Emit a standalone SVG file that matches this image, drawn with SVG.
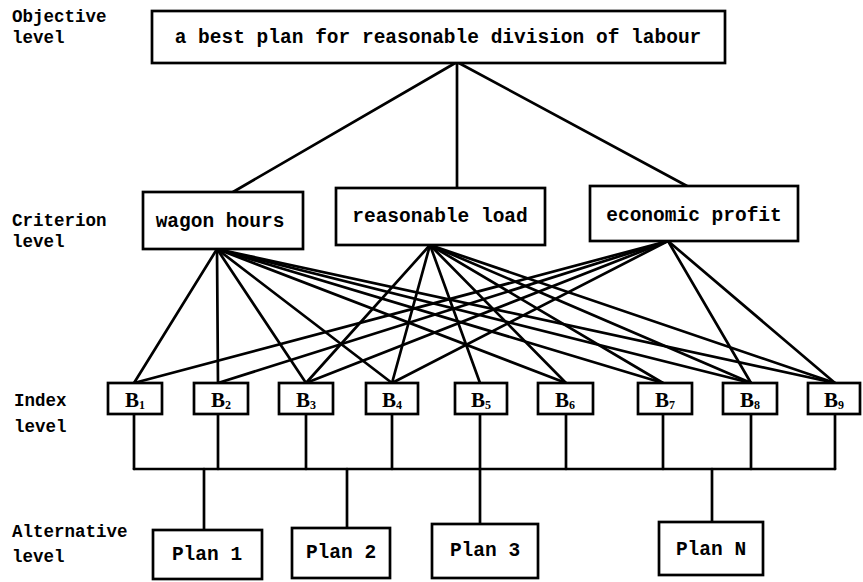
<svg xmlns="http://www.w3.org/2000/svg" width="863" height="582" viewBox="0 0 863 582">
<style>
.bg{fill:#fff}
.box{fill:#fff;stroke:#000;stroke-width:2.7}
.ln{stroke:#000;stroke-width:2.7;fill:none;stroke-linecap:round}
.t{font-family:"Liberation Mono","DejaVu Sans Mono",monospace;font-weight:bold;fill:#000}
.lbl{font-size:17.5px}
.main{font-size:19.5px;text-anchor:middle}
.b{font-family:"Liberation Serif","DejaVu Serif",serif;font-weight:bold;font-size:21px;text-anchor:middle;fill:#000}
.sub{font-size:12px}
</style>
<rect class="bg" x="0" y="0" width="863" height="582"/>

<g id="level-labels">
<text class="t lbl" x="12" y="22">Objective</text>
<text class="t lbl" x="12" y="43">level</text>
<text class="t lbl" x="12" y="226">Criterion</text>
<text class="t lbl" x="12" y="247">level</text>
<text class="t lbl" x="14" y="406">Index</text>
<text class="t lbl" x="14" y="432">level</text>
<text class="t lbl" x="12" y="537">Alternative</text>
<text class="t lbl" x="12" y="562">level</text>
</g>

<g id="connectors">
<line class="ln" x1="457" y1="62" x2="233" y2="192"/>
<line class="ln" x1="457" y1="62" x2="457" y2="188"/>
<line class="ln" x1="457" y1="62" x2="687" y2="186"/>
<line class="ln" x1="217" y1="249" x2="134" y2="383"/>
<line class="ln" x1="217" y1="249" x2="218" y2="383"/>
<line class="ln" x1="217" y1="249" x2="306" y2="383"/>
<line class="ln" x1="217" y1="249" x2="392" y2="383"/>
<line class="ln" x1="217" y1="249" x2="566" y2="383"/>
<line class="ln" x1="217" y1="249" x2="663" y2="383"/>
<line class="ln" x1="217" y1="249" x2="751" y2="383"/>
<line class="ln" x1="217" y1="249" x2="835" y2="383"/>
<line class="ln" x1="430" y1="245" x2="306" y2="383"/>
<line class="ln" x1="430" y1="245" x2="392" y2="383"/>
<line class="ln" x1="430" y1="245" x2="480" y2="383"/>
<line class="ln" x1="430" y1="245" x2="566" y2="383"/>
<line class="ln" x1="430" y1="245" x2="663" y2="383"/>
<line class="ln" x1="430" y1="245" x2="751" y2="383"/>
<line class="ln" x1="430" y1="245" x2="835" y2="383"/>
<line class="ln" x1="668" y1="241" x2="134" y2="383"/>
<line class="ln" x1="668" y1="241" x2="218" y2="383"/>
<line class="ln" x1="668" y1="241" x2="306" y2="383"/>
<line class="ln" x1="668" y1="241" x2="392" y2="383"/>
<line class="ln" x1="668" y1="241" x2="751" y2="383"/>
<line class="ln" x1="668" y1="241" x2="835" y2="383"/>
<line class="ln" x1="134" y1="414" x2="134" y2="469"/>
<line class="ln" x1="218" y1="414" x2="218" y2="469"/>
<line class="ln" x1="306" y1="414" x2="306" y2="469"/>
<line class="ln" x1="392" y1="414" x2="392" y2="469"/>
<line class="ln" x1="480" y1="414" x2="480" y2="524"/>
<line class="ln" x1="566" y1="414" x2="566" y2="469"/>
<line class="ln" x1="663" y1="414" x2="663" y2="469"/>
<line class="ln" x1="751" y1="414" x2="751" y2="469"/>
<line class="ln" x1="835" y1="414" x2="835" y2="469"/>
<line class="ln" x1="134" y1="469" x2="835" y2="469"/>
<line class="ln" x1="204" y1="469" x2="204" y2="530"/>
<line class="ln" x1="347" y1="469" x2="347" y2="528"/>
<line class="ln" x1="712" y1="469" x2="712" y2="522"/>
</g>

<g id="objective">
<rect class="box" x="152" y="11" width="573" height="52"/>
<text class="t main" x="438" y="43">a best plan for reasonable division of labour</text>
</g>

<g id="wagon-hours">
<rect class="box" x="143" y="192" width="160" height="57"/>
<text class="t main" x="220" y="227">wagon hours</text>
</g>
<g id="reasonable-load">
<rect class="box" x="336" y="188" width="209" height="57"/>
<text class="t main" x="440" y="222">reasonable load</text>
</g>
<g id="economic-profit">
<rect class="box" x="590" y="186" width="208" height="55"/>
<text class="t main" x="694" y="221">economic profit</text>
</g>

<g id="B1"><rect class="box" x="108" y="383" width="54" height="31"/><text class="b" x="135" y="407">B<tspan class="sub" dy="2">1</tspan></text></g>
<g id="B2"><rect class="box" x="194" y="383" width="54" height="31"/><text class="b" x="221" y="407">B<tspan class="sub" dy="2">2</tspan></text></g>
<g id="B3"><rect class="box" x="279" y="383" width="54" height="31"/><text class="b" x="306" y="407">B<tspan class="sub" dy="2">3</tspan></text></g>
<g id="B4"><rect class="box" x="366" y="383" width="52" height="31"/><text class="b" x="392" y="407">B<tspan class="sub" dy="2">4</tspan></text></g>
<g id="B5"><rect class="box" x="455" y="383" width="52" height="31"/><text class="b" x="481" y="407">B<tspan class="sub" dy="2">5</tspan></text></g>
<g id="B6"><rect class="box" x="538" y="383" width="55" height="31"/><text class="b" x="565" y="407">B<tspan class="sub" dy="2">6</tspan></text></g>
<g id="B7"><rect class="box" x="638" y="383" width="54" height="31"/><text class="b" x="665" y="407">B<tspan class="sub" dy="2">7</tspan></text></g>
<g id="B8"><rect class="box" x="723" y="383" width="54" height="31"/><text class="b" x="750" y="407">B<tspan class="sub" dy="2">8</tspan></text></g>
<g id="B9"><rect class="box" x="808" y="383" width="52" height="31"/><text class="b" x="834" y="407">B<tspan class="sub" dy="2">9</tspan></text></g>

<g id="plan1"><rect class="box" x="153" y="530" width="109" height="49"/><text class="t main" x="207" y="560">Plan 1</text></g>
<g id="plan2"><rect class="box" x="292" y="528" width="98" height="50"/><text class="t main" x="341" y="558">Plan 2</text></g>
<g id="plan3"><rect class="box" x="432" y="524" width="106" height="54"/><text class="t main" x="485" y="556">Plan 3</text></g>
<g id="planN"><rect class="box" x="659" y="522" width="104" height="53"/><text class="t main" x="711" y="555">Plan N</text></g>
</svg>
